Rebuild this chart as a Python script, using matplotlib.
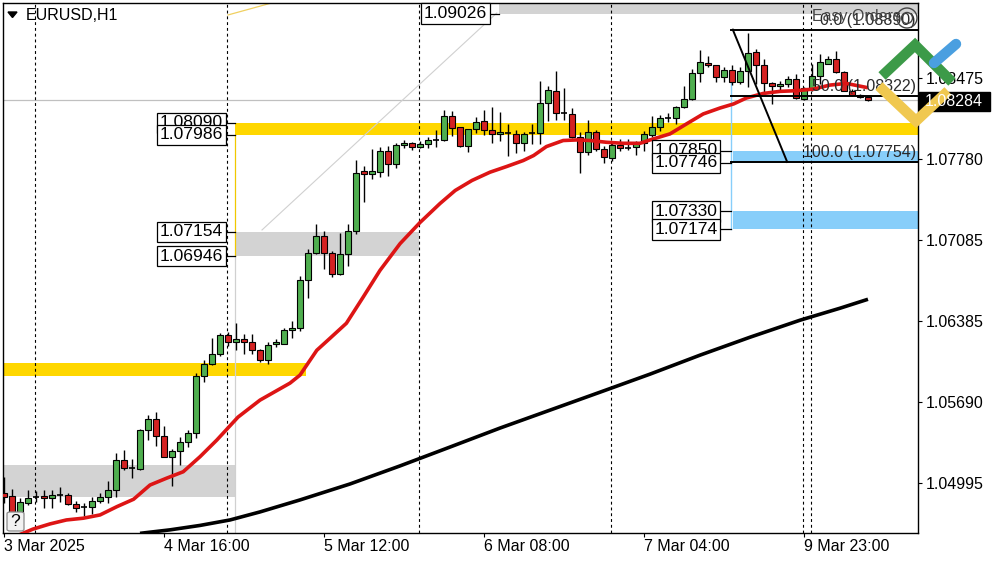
import matplotlib
matplotlib.use("Agg")
import matplotlib.pyplot as plt
from matplotlib.patches import Rectangle, Ellipse, Polygon, FancyBboxPatch
from matplotlib.lines import Line2D

plt.rcParams['font.family'] = ['Liberation Sans', 'DejaVu Sans']

# ---------------- data ----------------
symbol_title = "EURUSD,H1"
x_tick_bars = [0, 20, 40, 60, 80, 100]
x_tick_labels = ["3 Mar 2025", "4 Mar 16:00", "5 Mar 12:00", "6 Mar 08:00", "7 Mar 04:00", "9 Mar 23:00"]
y_tick_values = [1.04995, 1.05690, 1.06385, 1.07085, 1.07780, 1.08475]
day_separators = [4, 28, 52, 76, 100, 101]
current_price = 1.08284

opens = [1.04909, 1.04886, 1.04752, 1.04829, 1.04880, 1.04886, 1.04866, 1.04891, 1.04895, 1.04815,
         1.04789, 1.04790, 1.04846, 1.04880, 1.04938, 1.05195, 1.05129, 1.05118, 1.05452, 1.05543,
         1.05400, 1.05218, 1.05272, 1.05346, 1.05424, 1.05915, 1.06015, 1.06101, 1.06266, 1.06209,
         1.06238, 1.06204, 1.06137, 1.06052, 1.06195, 1.06195, 1.06315, 1.06332, 1.06743, 1.06971,
         1.07120, 1.06971, 1.06795, 1.06966, 1.07157, 1.07674, 1.07652, 1.07665, 1.07851, 1.07737,
         1.07897, 1.07917, 1.07886, 1.07909, 1.07943, 1.07943, 1.08149, 1.08054, 1.07892, 1.08034,
         1.08106, 1.08029, 1.07995, 1.08000, 1.07995, 1.07917, 1.08000, 1.08000, 1.08263, 1.08366,
         1.08174, 1.08166, 1.07965, 1.07843, 1.08014, 1.07866, 1.07789, 1.07897, 1.07875, 1.07886,
         1.07914, 1.07988, 1.08051, 1.08128, 1.08132, 1.08223, 1.08294, 1.08514, 1.08603, 1.08586,
         1.08480, 1.08543, 1.08443, 1.08537, 1.08694, 1.08586, 1.08432, 1.08402, 1.08423, 1.08466,
         1.08294, 1.08380, 1.08494, 1.08599, 1.08637, 1.08528, 1.08366, 1.08332, 1.08308]
highs = [1.05052, 1.04946, 1.04872, 1.04938, 1.04929, 1.04938, 1.04938, 1.04966, 1.04914, 1.04846,
         1.04824, 1.04880, 1.04914, 1.05015, 1.05257, 1.05280, 1.05201, 1.05458, 1.05580, 1.05609,
         1.05486, 1.05286, 1.05394, 1.05452, 1.05940, 1.06052, 1.06246, 1.06286, 1.06294, 1.06371,
         1.06280, 1.06280, 1.06152, 1.06209, 1.06238, 1.06329, 1.06388, 1.06774, 1.07009, 1.07223,
         1.07157, 1.06988, 1.07143, 1.07223, 1.07772, 1.07723, 1.07866, 1.07880, 1.07894, 1.07914,
         1.07943, 1.07922, 1.07937, 1.07971, 1.08029, 1.08200, 1.08194, 1.08057, 1.08037, 1.08143,
         1.08200, 1.08222, 1.08180, 1.08080, 1.08029, 1.08014, 1.08080, 1.08445, 1.08409, 1.08537,
         1.08385, 1.08217, 1.08008, 1.08114, 1.08029, 1.07894, 1.07914, 1.07948, 1.07948, 1.07937,
         1.08023, 1.08151, 1.08160, 1.08171, 1.08237, 1.08406, 1.08552, 1.08714, 1.08665, 1.08586,
         1.08565, 1.08588, 1.08571, 1.08865, 1.08723, 1.08637, 1.08443, 1.08452, 1.08494, 1.08509,
         1.08394, 1.08599, 1.08680, 1.08665, 1.08709, 1.08537, 1.08380, 1.08340, 1.08314]
lows = [1.04829, 1.04715, 1.04723, 1.04809, 1.04835, 1.04783, 1.04783, 1.04837, 1.04809, 1.04752,
        1.04715, 1.04732, 1.04824, 1.04824, 1.04875, 1.05109, 1.05038, 1.05109, 1.05366, 1.05315,
        1.05218, 1.04972, 1.05152, 1.05309, 1.05381, 1.05866, 1.06010, 1.06086, 1.06172, 1.06137,
        1.06109, 1.06109, 1.06037, 1.06023, 1.06161, 1.06190, 1.06246, 1.06300, 1.06589, 1.06960,
        1.06838, 1.06766, 1.06780, 1.06857, 1.07131, 1.07408, 1.07609, 1.07623, 1.07637, 1.07703,
        1.07875, 1.07857, 1.07875, 1.07875, 1.07880, 1.07937, 1.07977, 1.07880, 1.07837, 1.07999,
        1.07988, 1.07914, 1.07937, 1.07809, 1.07828, 1.07845, 1.07909, 1.07909, 1.08108, 1.08114,
        1.08114, 1.07960, 1.07657, 1.07817, 1.07845, 1.07743, 1.07766, 1.07845, 1.07857, 1.07817,
        1.07851, 1.07965, 1.08023, 1.08094, 1.08083, 1.08217, 1.08286, 1.08437, 1.08565, 1.08437,
        1.08437, 1.08417, 1.08423, 1.08394, 1.08423, 1.08351, 1.08252, 1.08366, 1.08394, 1.08294,
        1.08289, 1.08360, 1.08423, 1.08594, 1.08517, 1.08360, 1.08323, 1.08303, 1.08276]
closes = [1.04880, 1.04740, 1.04832, 1.04872, 1.04881, 1.04869, 1.04895, 1.04892, 1.04815, 1.04781,
          1.04790, 1.04846, 1.04880, 1.04938, 1.05195, 1.05129, 1.05130, 1.05452, 1.05543, 1.05400,
          1.05223, 1.05272, 1.05346, 1.05424, 1.05915, 1.06015, 1.06101, 1.06266, 1.06209, 1.06238,
          1.06209, 1.06137, 1.06052, 1.06186, 1.06204, 1.06315, 1.06332, 1.06743, 1.06971, 1.07120,
          1.06971, 1.06795, 1.06966, 1.07157, 1.07663, 1.07652, 1.07674, 1.07845, 1.07737, 1.07903,
          1.07920, 1.07886, 1.07909, 1.07943, 1.07942, 1.08149, 1.08046, 1.07892, 1.08034, 1.08097,
          1.08029, 1.07995, 1.08014, 1.08002, 1.07917, 1.07995, 1.08002, 1.08263, 1.08372, 1.08174,
          1.08177, 1.07965, 1.07843, 1.08014, 1.07866, 1.07794, 1.07903, 1.07875, 1.07878, 1.07914,
          1.07995, 1.08051, 1.08132, 1.08130, 1.08229, 1.08294, 1.08514, 1.08611, 1.08588, 1.08480,
          1.08543, 1.08443, 1.08537, 1.08689, 1.08586, 1.08432, 1.08402, 1.08423, 1.08466, 1.08303,
          1.08389, 1.08494, 1.08608, 1.08637, 1.08528, 1.08366, 1.08332, 1.08308, 1.08284]

# fast moving average (red), read at bar positions
ma_fast_bars = [2.0, 3.6, 5.75, 7.8, 9.9, 12.0, 14.1, 16.2, 18.25, 20.3, 22.4, 24.5, 26.6, 29.25,
                32.0, 35.75, 37.0, 39.1, 40.75, 42.8, 44.9, 47.0, 49.5, 52.0, 54.5, 56.4, 58.5,
                60.75, 62.8, 64.9, 66.2, 67.8, 69.9, 71.6, 73.25, 75.3, 77.4, 79.5, 80.75, 83.25,
                85.3, 87.4, 89.5, 91.2, 92.8, 94.9, 97.0, 99.1, 101.2, 103.25, 105.3, 108.0]
ma_fast_vals = [1.04555, 1.04601, 1.04646, 1.04680, 1.04695, 1.04723, 1.04794, 1.04858, 1.04980,
                1.05038, 1.05094, 1.05223, 1.05366, 1.05563, 1.05709, 1.05855, 1.05924, 1.06137,
                1.06240, 1.06369, 1.06594, 1.06823, 1.07052, 1.07234, 1.07397, 1.07509, 1.07595,
                1.07666, 1.07714, 1.07766, 1.07809, 1.07886, 1.07938, 1.07943, 1.07938, 1.07923,
                1.07914, 1.07914, 1.07943, 1.07995, 1.08080, 1.08166, 1.08217, 1.08252, 1.08303,
                1.08342, 1.08360, 1.08366, 1.08380, 1.08414, 1.08428, 1.08391]
# slow moving average (black)
ma_slow_bars = [17.0, 20.75, 24.5, 28.25, 32.0, 37.0, 43.25, 49.5, 55.75, 62.0, 68.25, 74.5,
                80.75, 87.0, 93.25, 99.5, 104.5, 108.0]
ma_slow_vals = [1.04565, 1.04595, 1.04633, 1.04680, 1.04749, 1.04852, 1.04989, 1.05144, 1.05306,
                1.05469, 1.05623, 1.05777, 1.05932, 1.06095, 1.06249, 1.06395, 1.06498, 1.06575]

# zones (bar start, bar end, price low, price high)
yellow_zones = [(28.9, 130, 1.07986, 1.08090), (-5, 37.75, 1.05916, 1.06028)]
gray_zones = [(-5, 29.0, 1.04877, 1.05152), (28.9, 51.9, 1.06946, 1.07154), (61.9, 130, 1.09026, 1.0930)]
blue_zones = [(91.1, 130, 1.07746, 1.07850), (91.1, 130, 1.07174, 1.07330)]

# fibonacci
fib_start_bar = 90.9
fib_end_bar = 97.9
fib_high = 1.08890
fib_low = 1.07754
fib_levels = [0.0, 50.0, 100.0]

# ---------------- figure ----------------
W, H = 1000, 562
fig = plt.figure(figsize=(W / 100, H / 100), dpi=100)
fig.patch.set_facecolor('white')
L, R, T, B = 2.5, 918.3, 2.5, 533.0
ax = fig.add_axes([L / W, 1 - B / H, (R - L) / W, (B - T) / H])
ax.set_xlim(-0.19, 114.29)
ax.set_ylim(1.04568, 1.09123)
for s in ax.spines.values():
    s.set_color('black')
    s.set_linewidth(1.0)


def fpx(x, y):
    return (x / W, 1 - y / H)


# zones
for x0, x1, p0, p1 in gray_zones:
    ax.add_patch(Rectangle((x0, p0), x1 - x0, p1 - p0, facecolor='#d3d3d3', edgecolor='none', zorder=1))
for x0, x1, p0, p1 in yellow_zones:
    ax.add_patch(Rectangle((x0, p0), x1 - x0, p1 - p0, facecolor='#ffd700', edgecolor='none', zorder=1))
for x0, x1, p0, p1 in blue_zones:
    ax.add_patch(Rectangle((x0, p0), x1 - x0, p1 - p0, facecolor='#87cefa', edgecolor='none', zorder=1))

# thin auxiliary lines
ax.plot([28.9, 28.9], [1.06946, 1.07986], color='#f0c800', lw=0.9, zorder=1.2)
ax.plot([28.9, 28.9], [1.04, 1.06946], color='#d0d0d0', lw=0.9, zorder=1.2)
ax.plot([32.25, 61.6], [1.07170, 1.09033], color='#d0d0d0', lw=0.8, zorder=1.2)
ax.plot([28.0, 33.5], [1.09016, 1.09120], color='#f0d060', lw=0.9, zorder=1.2)
ax.plot([fib_start_bar, fib_start_bar], [1.07178, 1.08433], color='#87cefa', lw=1.0, zorder=1.2)

# bid line
ax.axhline(current_price, color='#c0c0c0', lw=0.9, zorder=1.1)

# day separators
for b in day_separators:
    ax.axvline(b - 0.15, color='black', lw=0.8, linestyle=(0, (2.6, 2.6)), zorder=1.5)

# candles
xs = list(range(len(opens)))
ax.vlines(xs, lows, highs, color='black', lw=1.0, zorder=3)
up_x, up_b, up_h, dn_x, dn_b, dn_h, dj_x, dj_p = [], [], [], [], [], [], [], []
for i, (o, c) in enumerate(zip(opens, closes)):
    if abs(c - o) < 0.00004:
        dj_x.append(i)
        dj_p.append((o + c) / 2)
    elif c > o:
        up_x.append(i); up_b.append(o); up_h.append(c - o)
    else:
        dn_x.append(i); dn_b.append(c); dn_h.append(o - c)
ax.bar(up_x, up_h, bottom=up_b, width=0.7, color='#4fae4f', edgecolor='black', lw=0.8, zorder=3.2)
ax.bar(dn_x, dn_h, bottom=dn_b, width=0.7, color='#d42222', edgecolor='black', lw=0.8, zorder=3.2)
ax.hlines(dj_p, [x - 0.4 for x in dj_x], [x + 0.4 for x in dj_x], color='black', lw=1.2, zorder=3.2)

# moving averages
ax.plot(ma_slow_bars, ma_slow_vals, color='black', lw=2.6, solid_capstyle='butt', zorder=4)
ax.plot(ma_fast_bars, ma_fast_vals, color='#dd1515', lw=2.6, solid_capstyle='butt', zorder=4)

# fibonacci
for lvl in fib_levels:
    p = fib_high - (fib_high - fib_low) * lvl / 100.0
    ax.plot([fib_start_bar, 130], [p, p], color='black', lw=1.4, zorder=5)
    ax.text(114.0, p + 0.00018, f"{lvl:.1f} ({p:.5f})", ha='right', va='bottom',
            fontsize=11.5, color='#2a2a2a', zorder=6)
ax.plot([fib_start_bar + 0.2, fib_end_bar], [fib_high, fib_low], color='black', lw=1.4, zorder=5)

# price labels with boxes
box_labels = [
    (60.4, 61.9, 1.09026),
    (27.4, 28.9, 1.08090), (27.4, 28.9, 1.07986),
    (27.4, 28.9, 1.07154), (27.4, 28.9, 1.06946),
    (89.2, 90.9, 1.07850), (89.2, 90.9, 1.07746),
    (89.2, 90.9, 1.07330), (89.2, 90.9, 1.07174),
]
for xb, xz, p in box_labels:
    ax.plot([xb + 0.3, xz], [p, p], color='black', lw=0.9, zorder=6)
    ax.text(xb, p, f"{p:.5f}", ha='right', va='center', fontsize=12.6, color='black', zorder=7,
            bbox=dict(boxstyle='square,pad=0.16', facecolor='white', edgecolor='black', lw=0.9))

# axes ticks
ax.yaxis.tick_right()
ax.set_yticks(y_tick_values)
ax.set_yticklabels([f"{v:.5f}" for v in y_tick_values])
ax.tick_params(axis='y', direction='out', length=3, width=0.8, pad=2.2, labelsize=11.5, colors='black')
ax.set_xticks(x_tick_bars)
ax.set_xticklabels(x_tick_labels, ha='left')
ax.tick_params(axis='x', direction='out', length=3, width=0.8, pad=1.5, labelsize=11.5, colors='black')
for lab in ax.get_xticklabels():
    lab.set_horizontalalignment('left')

# title with triangle
fig.add_artist(Polygon([fpx(8, 12), fpx(17, 12), fpx(12.5, 17.5)], closed=True,
                       transform=fig.transFigure, facecolor='black', edgecolor='black'))
fig.text(*fpx(26, 16), symbol_title, ha='left', va='center', fontsize=11.5, color='black')

# Easy Orders
fig.text(*fpx(812, 17), "Easy Orders", ha='left', va='center', fontsize=11.5, color='#444444', zorder=8)
fig.add_artist(Ellipse(fpx(907, 18), 20 / W, 20 / H, transform=fig.transFigure,
                       facecolor='none', edgecolor='#444444', lw=1.0))
fig.add_artist(Ellipse(fpx(907, 18), 11 / W, 11 / H, transform=fig.transFigure,
                       facecolor='none', edgecolor='#444444', lw=1.0))

# current price label
fig.add_artist(Rectangle(fpx(919, 110.5), 71 / W, 19 / H, transform=fig.transFigure,
                         facecolor='black', edgecolor='black'))
fig.text(*fpx(925, 101), f"{current_price:.5f}", ha='left', va='center', fontsize=11.5, color='white')

# help box
fig.add_artist(FancyBboxPatch(fpx(7, 531), 17 / W, 19 / H, boxstyle='round,pad=0,rounding_size=0.003',
                              transform=fig.transFigure, facecolor='#f2f2f2', edgecolor='#8a8a8a', lw=0.9))
fig.text(*fpx(15.5, 521), "?", ha='center', va='center', fontsize=12.5, color='black')

# logo
lw_logo = 7.5
fig.add_artist(Line2D([882 / W, 915 / W, 952 / W], [1 - 76 / H, 1 - 45 / H, 1 - 82 / H],
                      transform=fig.transFigure, color='#3c9a48', lw=lw_logo, solid_capstyle='butt',
                      solid_joinstyle='miter'))
fig.add_artist(Line2D([934 / W, 956 / W], [1 - 63 / H, 1 - 44 / H], transform=fig.transFigure,
                      color='#4a9fe0', lw=lw_logo, solid_capstyle='round'))
fig.add_artist(Line2D([879 / W, 916 / W, 948 / W], [1 - 86 / H, 1 - 121 / H, 1 - 91 / H],
                      transform=fig.transFigure, color='#f0c850', lw=lw_logo, solid_capstyle='butt',
                      solid_joinstyle='miter'))

fig.savefig("out.png", dpi=100, facecolor='white')
